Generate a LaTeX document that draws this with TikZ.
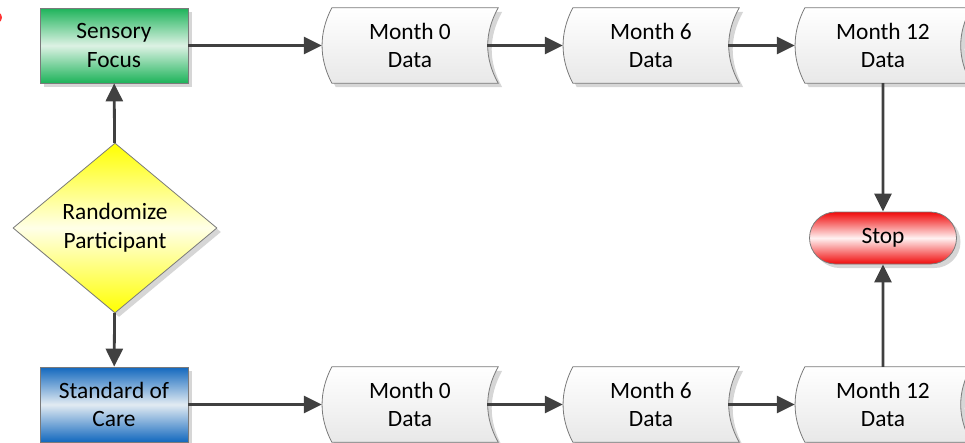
\documentclass[tikz,border=0pt]{standalone}
\usepackage{fontspec}
\setmainfont{Carlito}
\usetikzlibrary{arrows.meta,shapes.geometric,shapes.misc,shadows,backgrounds}
\definecolor{arrgray}{HTML}{404040}
\definecolor{edgegray}{HTML}{7A7A7A}
\definecolor{shadowgray}{HTML}{D6D6D6}
\definecolor{gdark}{HTML}{1DB35A}
\definecolor{glight}{HTML}{DDF2E4}
\definecolor{bdark}{HTML}{1268BE}
\definecolor{blight}{HTML}{E2EBF2}
\definecolor{rdark}{HTML}{F00A0A}
\definecolor{rlight}{HTML}{FFF2F2}
\definecolor{ydark}{HTML}{FFFF00}
\definecolor{ylight}{HTML}{FFFFE8}
\newcommand\dshape[4]{%
  \path[#4] ([xshift=#2+10pt,yshift=#3]#1.north west) -- ([xshift=#2,yshift=#3]#1.north east)
   .. controls ([xshift=#2-14pt,yshift=#3-25pt]#1.north east) and ([xshift=#2-14pt,yshift=#3+25pt]#1.south east) .. ([xshift=#2,yshift=#3]#1.south east)
   -- ([xshift=#2+10pt,yshift=#3]#1.south west)
   .. controls ([xshift=#2-3pt,yshift=#3+25pt]#1.south west) and ([xshift=#2-3pt,yshift=#3-25pt]#1.north west) .. cycle;}
\tikzset{
  shd/.style={drop shadow={shadow xshift=4pt,shadow yshift=-4pt,fill=shadowgray,opacity=1}},
  procbox/.style={rectangle,minimum width=148pt,minimum height=75pt,inner sep=0pt,draw=edgegray,line width=0.8pt,align=center,shd},
  dnode/.style={rectangle,minimum width=176pt,minimum height=75pt,inner sep=0pt,align=center},
  dfill/.style={draw=edgegray,line width=0.8pt,top color=white,bottom color=black!9},
  arr/.style={draw=arrgray,line width=2.8pt,-{Triangle[length=18pt,width=17pt]}},
}
\begin{document}
\begin{tikzpicture}[x=1pt,y=-1pt,font=\fontsize{23.4}{28.5}\selectfont]
\useasboundingbox (0,0) rectangle (965,442);
\fill[red!80] (-2,17.5) ellipse [x radius=4, y radius=5];
% process boxes
\node[procbox,top color=gdark,bottom color=gdark,middle color=glight] (sf) at (114,45.5) {Sensory\\Focus};
\node[procbox,top color=bdark,bottom color=bdark,middle color=blight] (sc) at (114,404.5) {Standard of\\Care};
\node[diamond,minimum width=204pt,minimum height=170pt,inner sep=0pt,draw=edgegray,line width=0.8pt,
      top color=ydark,bottom color=ydark,middle color=ylight,shd,align=center] (rp) at (115,228) {Randomize\\Participant};
% data nodes
\node[dnode] (t0) at (410,45.5) {Month 0\\Data};
\node[dnode] (t6) at (651,45.5) {Month 6\\Data};
\node[dnode] (t12) at (883,45.5) {Month 12\\Data};
\node[dnode] (b0) at (410,404.5) {Month 0\\Data};
\node[dnode] (b6) at (651,404.5) {Month 6\\Data};
\node[dnode] (b12) at (883,404.5) {Month 12\\Data};
\begin{scope}[on background layer]
  \foreach \n in {t0,t6,t12,b0,b6,b12}{\dshape{\n}{4pt}{-4pt}{fill=shadowgray}}
  \foreach \n in {t0,t6,t12,b0,b6,b12}{\dshape{\n}{0pt}{0pt}{dfill}}
\end{scope}
% stop
\node[rounded rectangle,minimum width=147pt,minimum height=52pt,inner sep=0pt,draw=edgegray,line width=0.8pt,
      top color=rdark,bottom color=rdark,middle color=rlight,shd] (stop) at (883,238) {Stop};
% connectors
\draw[arr] (rp) -- (sf);
\draw[arr] (rp) -- (sc);
\draw[arr] (sf) -- (t0);
\draw[arr] ([xshift=-11pt]t0.east) -- (t6.west);
\draw[arr] ([xshift=-11pt]t6.east) -- (t12.west);
\draw[arr] (sc) -- (b0);
\draw[arr] ([xshift=-11pt]b0.east) -- (b6.west);
\draw[arr] ([xshift=-11pt]b6.east) -- (b12.west);
\draw[arr] (t12) -- (stop);
\draw[arr] (b12) -- (stop);
\end{tikzpicture}
\end{document}
